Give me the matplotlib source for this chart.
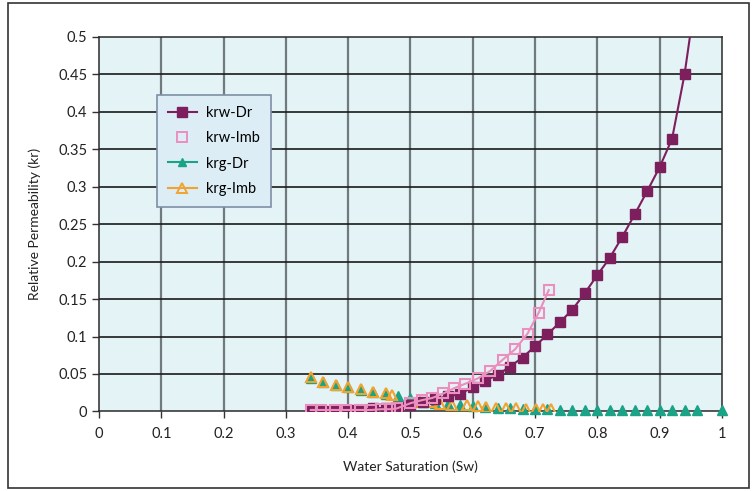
import matplotlib
matplotlib.use("Agg")
import matplotlib.pyplot as plt
from matplotlib.lines import Line2D
from matplotlib.patches import Rectangle

plt.rcParams['font.family'] = ['Lato', 'DejaVu Sans']

# Water relative permeability, drainage
sw_krw_dr = [0.34, 0.36, 0.38, 0.40, 0.42, 0.44, 0.46, 0.48, 0.50, 0.52, 0.54,
             0.56, 0.58, 0.60, 0.62, 0.64, 0.66, 0.68, 0.70, 0.72, 0.74, 0.76,
             0.78, 0.80, 0.82, 0.84, 0.86, 0.88, 0.90, 0.92, 0.94, 0.96]
krw_dr = [0.001, 0.001, 0.0015, 0.002, 0.0025, 0.004, 0.005, 0.006, 0.009, 0.013,
          0.017, 0.020, 0.023, 0.033, 0.041, 0.049, 0.060, 0.072, 0.087, 0.103,
          0.119, 0.136, 0.158, 0.182, 0.205, 0.233, 0.263, 0.294, 0.326, 0.364,
          0.450, 0.566]

# Water relative permeability, imbibition
sw_krw_imb = [0.34, 0.357, 0.379, 0.397, 0.419, 0.437, 0.453, 0.467, 0.478, 0.50,
              0.518, 0.535, 0.553, 0.570, 0.588, 0.608, 0.628, 0.648, 0.668,
              0.688, 0.706, 0.722]
krw_imb = [0.002, 0.002, 0.002, 0.002, 0.002, 0.002, 0.003, 0.003, 0.004, 0.011,
           0.015, 0.018, 0.024, 0.031, 0.037, 0.044, 0.054, 0.069, 0.083, 0.104,
           0.132, 0.162]

# Gas relative permeability, drainage
sw_krg_dr = [0.34, 0.36, 0.38, 0.40, 0.42, 0.44, 0.46, 0.48, 0.50, 0.52, 0.54,
             0.56, 0.58, 0.60, 0.62, 0.64, 0.66, 0.68, 0.70, 0.72, 0.74, 0.76,
             0.78, 0.80, 0.82, 0.84, 0.86, 0.88, 0.90, 0.92, 0.94, 0.96, 1.00]
krg_dr = [0.045, 0.039, 0.035, 0.032, 0.029, 0.026, 0.023, 0.021, 0.0176, 0.013,
          0.011, 0.010, 0.008, 0.007, 0.006, 0.005, 0.004, 0.0035, 0.003, 0.003,
          0.0025, 0.0025, 0.0025, 0.0025, 0.0025, 0.0025, 0.0025, 0.0025, 0.0025,
          0.0025, 0.0025, 0.0025, 0.0025]

# Gas relative permeability, imbibition
sw_krg_imb = [0.34, 0.36, 0.38, 0.40, 0.42, 0.44, 0.46, 0.47, 0.515, 0.533, 0.547,
              0.566, 0.59, 0.609, 0.622, 0.638, 0.653, 0.669, 0.686, 0.702,
              0.712, 0.725]
krg_imb = [0.046, 0.039, 0.035, 0.032, 0.0296, 0.026, 0.024, 0.022, 0.013, 0.012,
           0.010, 0.009, 0.008, 0.007, 0.006, 0.005, 0.0045, 0.004, 0.0035,
           0.003, 0.003, 0.003]

x_ticks = [0, 0.1, 0.2, 0.3, 0.4, 0.5, 0.6, 0.7, 0.8, 0.9, 1.0]
x_tick_labels = ['0', '0.1', '0.2', '0.3', '0.4', '0.5', '0.6', '0.7', '0.8', '0.9', '1']
y_ticks = [0, 0.05, 0.1, 0.15, 0.2, 0.25, 0.3, 0.35, 0.4, 0.45, 0.5]
y_tick_labels = ['0', '0.05', '0.1', '0.15', '0.2', '0.25', '0.3', '0.35', '0.4', '0.45', '0.5']

c_krw_dr = '#7c1f5c'
c_krw_imb = '#ea8fbe'
c_krg_dr = '#1aa386'
c_krg_imb = '#f2a22e'

fig = plt.figure(figsize=(7.52, 4.91), dpi=100)
ax = fig.add_axes([0.1316, 0.162, 0.8284, 0.763])
ax.set_facecolor('#e4f3f6')

ax.set_xlim(0, 1)
ax.set_ylim(0, 0.5)

# grid: gray verticals, black horizontals
for xv in x_ticks[1:-1]:
    ax.axvline(xv, color='#6f7a7e', lw=1.6, zorder=1)
for yv in y_ticks[1:-1]:
    ax.axhline(yv, color='#1a1a1a', lw=1.2, zorder=1)

ax.plot(sw_krg_dr, krg_dr, linestyle='none', marker='^', ms=6.5,
        color=c_krg_dr, zorder=3, clip_on=False)
ax.plot(sw_krg_imb, krg_imb, linestyle='none', marker='^', ms=7.5,
        mfc='none', mec=c_krg_imb, mew=1.5, zorder=3)
ax.plot(sw_krw_dr, krw_dr, '-', color=c_krw_dr, lw=1.5, marker='s', ms=7,
        zorder=4)
ax.plot(sw_krw_imb, krw_imb, '-', color=c_krw_imb, lw=1.5, marker='s', ms=7,
        mfc='none', mec=c_krw_imb, mew=1.5, zorder=5)

ax.set_xticks(x_ticks)
ax.set_xticklabels(x_tick_labels)
ax.set_yticks(y_ticks)
ax.set_yticklabels(y_tick_labels)
ax.tick_params(axis='both', direction='out', length=5, width=1,
               color='#333333', labelsize=10.5, labelcolor='#222222')
ax.tick_params(axis='x', pad=6)

for side in ['left', 'bottom', 'top', 'right']:
    ax.spines[side].set_color('#2a2a2a')
    ax.spines[side].set_linewidth(1.1)

ax.set_xlabel('Water Saturation (Sw)', fontsize=10, color='#222222', labelpad=14)
ax.set_ylabel('Relative Permeability (kr)', fontsize=10, color='#222222', labelpad=12)

handles = [
    Line2D([], [], color=c_krw_dr, lw=1.5, marker='s', ms=6.5),
    Line2D([], [], linestyle='none', marker='s', ms=6.5, mfc='none',
           mec=c_krw_imb, mew=1.4),
    Line2D([], [], color=c_krg_dr, lw=1.5, marker='^', ms=5.5),
    Line2D([], [], color=c_krg_imb, lw=1.5, marker='^', ms=6.5, mfc='none',
           mec=c_krg_imb, mew=1.4),
]
labels = ['krw-Dr', 'krw-Imb', 'krg-Dr', 'krg-Imb']
leg = ax.legend(handles, labels, loc='upper left', bbox_to_anchor=(0.093, 0.845),
                borderaxespad=0, fontsize=10.5, frameon=True, fancybox=False,
                handlelength=2.0, labelspacing=0.78, borderpad=0.75,
                handletextpad=0.6)
leg.get_frame().set_facecolor('#dcedf5')
leg.get_frame().set_edgecolor('#7f8fa6')
leg.get_frame().set_linewidth(1.2)
leg.get_frame().set_alpha(1)
leg.set_zorder(10)

# outer frame around the figure
fig.patches.append(Rectangle((8 / 752, 3 / 491), 741 / 752, 485 / 491,
                             transform=fig.transFigure, fill=False,
                             edgecolor='#333333', lw=1.2))

fig.savefig('out.png', dpi=100)
